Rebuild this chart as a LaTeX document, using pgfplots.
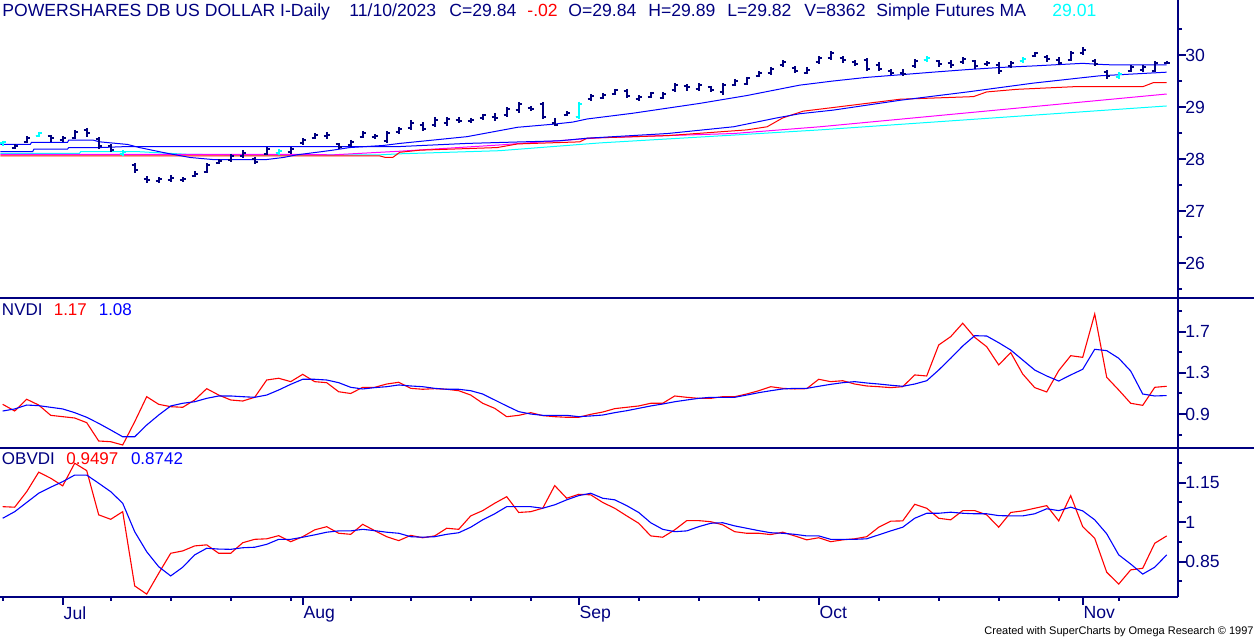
\documentclass[border=0pt]{standalone}
\usepackage{pgfplots}
\pgfplotsset{compat=1.18}
\usepackage{pgfplotstable}
\usepackage{fontspec}
\setmainfont{Liberation Sans}
\definecolor{navy}{RGB}{0,0,128}
\definecolor{mablue}{RGB}{0,0,255}
\definecolor{mared}{RGB}{255,0,0}
\definecolor{mamag}{RGB}{255,0,255}
\definecolor{macyan}{RGB}{0,255,255}
\pgfdeclareplotmark{openL}{\pgfpathmoveto{\pgfqpoint{-1.6pt}{0pt}}\pgfpathlineto{\pgfqpoint{0pt}{0pt}}\pgfusepathqstroke}
\pgfdeclareplotmark{closeR}{\pgfpathmoveto{\pgfqpoint{0pt}{0pt}}\pgfpathlineto{\pgfqpoint{1.6pt}{0pt}}\pgfusepathqstroke}

\pgfplotstableread{
i H L O C
0 28.35 28.25 28.30 28.32
1 28.29 28.19 28.22 28.25
2 28.44 28.31 28.33 28.40
3 28.52 28.42 28.45 28.50
4 28.46 28.33 28.44 28.40
5 28.44 28.33 28.36 28.41
6 28.56 28.38 28.40 28.52
7 28.60 28.42 28.55 28.50
8 28.42 28.19 28.38 28.25
9 28.29 28.13 28.25 28.18
10 28.17 28.06 28.10 28.13
11 27.92 27.73 27.88 27.78
12 27.67 27.54 27.62 27.60
13 27.65 27.54 27.58 27.62
14 27.69 27.56 27.60 27.64
15 27.65 27.56 27.60 27.62
16 27.77 27.65 27.68 27.72
17 27.92 27.73 27.75 27.88
18 28.00 27.90 27.93 27.97
19 28.10 27.94 27.98 28.05
20 28.17 28.02 28.05 28.12
21 28.04 27.90 28.00 27.95
22 28.23 28.08 28.10 28.20
23 28.19 28.08 28.12 28.15
24 28.23 28.10 28.13 28.19
25 28.40 28.27 28.30 28.36
26 28.50 28.38 28.40 28.46
27 28.52 28.38 28.45 28.47
28 28.31 28.19 28.28 28.24
29 28.37 28.23 28.26 28.33
30 28.54 28.40 28.43 28.50
31 28.48 28.38 28.42 28.45
32 28.54 28.31 28.35 28.50
33 28.62 28.48 28.52 28.58
34 28.75 28.56 28.60 28.70
35 28.71 28.54 28.65 28.58
36 28.81 28.62 28.65 28.75
37 28.81 28.63 28.70 28.76
38 28.81 28.69 28.75 28.74
39 28.79 28.69 28.73 28.75
40 28.87 28.75 28.78 28.84
41 28.88 28.73 28.80 28.78
42 29.00 28.81 28.85 28.96
43 29.10 28.88 28.95 29.05
44 29.02 28.92 28.98 28.97
45 29.10 28.77 29.05 28.80
46 28.79 28.63 28.70 28.66
47 28.92 28.83 28.85 28.88
48 29.10 28.77 28.80 29.05
49 29.25 29.12 29.15 29.22
50 29.27 29.15 29.18 29.24
51 29.35 29.23 29.25 29.32
52 29.35 29.17 29.30 29.22
53 29.23 29.12 29.15 29.20
54 29.29 29.17 29.20 29.26
55 29.29 29.15 29.18 29.25
56 29.46 29.29 29.32 29.42
57 29.44 29.31 29.40 29.38
58 29.46 29.31 29.35 29.42
59 29.40 29.29 29.38 29.33
60 29.46 29.23 29.28 29.42
61 29.54 29.40 29.43 29.50
62 29.58 29.42 29.45 29.55
63 29.69 29.58 29.60 29.66
64 29.77 29.62 29.65 29.74
65 29.90 29.77 29.80 29.87
66 29.79 29.65 29.75 29.70
67 29.77 29.63 29.66 29.72
68 29.98 29.83 29.86 29.94
69 30.08 29.90 29.94 30.03
70 29.98 29.85 29.95 29.90
71 29.90 29.79 29.86 29.82
72 29.94 29.69 29.90 29.73
73 29.87 29.69 29.80 29.74
74 29.73 29.62 29.70 29.66
75 29.73 29.60 29.66 29.64
76 29.92 29.75 29.78 29.89
77 29.98 29.87 29.90 29.95
78 29.90 29.77 29.88 29.82
79 29.90 29.75 29.85 29.80
80 29.96 29.83 29.86 29.92
81 29.90 29.73 29.88 29.78
82 29.88 29.79 29.83 29.84
83 29.87 29.63 29.80 29.70
84 29.88 29.75 29.78 29.85
85 29.96 29.85 29.88 29.93
86 30.06 29.96 29.98 30.03
87 30.00 29.87 29.97 29.92
88 29.96 29.81 29.90 29.85
89 30.08 29.88 29.91 30.04
90 30.15 30.00 30.03 30.10
91 29.92 29.79 29.88 29.83
92 29.71 29.54 29.68 29.60
93 29.67 29.54 29.58 29.63
94 29.81 29.67 29.70 29.76
95 29.81 29.67 29.72 29.77
96 29.88 29.67 29.70 29.85
97 29.89 29.82 29.84 29.84
}\bars

\pgfplotstableread{
i H L O C
0 28.35 28.25 28.30 28.32
3 28.52 28.42 28.45 28.50
10 28.17 28.06 28.10 28.13
23 28.19 28.08 28.12 28.15
48 29.10 28.77 28.80 29.05
77 29.98 29.87 29.90 29.95
85 29.96 29.85 29.88 29.93
93 29.67 29.54 29.58 29.63
}\cyanbars

\pgfplotstableread{
i r b
0 0.995 0.930
1 0.930 0.950
2 1.044 0.988
3 0.988 0.982
4 0.888 0.966
5 0.875 0.950
6 0.862 0.914
7 0.817 0.869
8 0.639 0.810
9 0.632 0.746
10 0.600 0.680
11 0.826 0.680
12 1.069 0.794
13 0.995 0.891
14 0.972 0.979
15 0.966 1.005
16 1.037 1.020
17 1.147 1.053
18 1.085 1.076
19 1.037 1.076
20 1.027 1.069
21 1.063 1.063
22 1.231 1.085
23 1.248 1.134
24 1.215 1.189
25 1.286 1.238
26 1.215 1.238
27 1.205 1.231
28 1.117 1.205
29 1.100 1.160
30 1.160 1.144
31 1.160 1.157
32 1.192 1.166
33 1.209 1.183
34 1.150 1.173
35 1.141 1.166
36 1.147 1.150
37 1.141 1.141
38 1.127 1.141
39 1.085 1.127
40 1.005 1.095
41 0.956 1.037
42 0.875 0.979
43 0.888 0.924
44 0.914 0.901
45 0.885 0.888
46 0.875 0.888
47 0.869 0.888
48 0.869 0.875
49 0.898 0.882
50 0.920 0.891
51 0.953 0.914
52 0.966 0.933
53 0.979 0.956
54 1.005 0.979
55 1.005 0.998
56 1.076 1.020
57 1.063 1.037
58 1.053 1.053
59 1.053 1.063
60 1.069 1.063
61 1.069 1.063
62 1.095 1.085
63 1.127 1.108
64 1.166 1.127
65 1.150 1.144
66 1.144 1.150
67 1.147 1.150
68 1.238 1.170
69 1.215 1.189
70 1.224 1.205
71 1.192 1.215
72 1.173 1.202
73 1.166 1.192
74 1.157 1.180
75 1.166 1.170
76 1.280 1.192
77 1.270 1.224
78 1.571 1.328
79 1.652 1.442
80 1.782 1.561
81 1.645 1.661
82 1.554 1.658
83 1.377 1.593
84 1.497 1.522
85 1.289 1.425
86 1.157 1.328
87 1.115 1.270
88 1.322 1.221
89 1.467 1.280
90 1.451 1.335
91 1.872 1.529
92 1.257 1.516
93 1.134 1.442
94 1.005 1.318
95 0.985 1.095
96 1.160 1.076
97 1.170 1.080
}\nvdi

\pgfplotstableread{
i r b
0 1.059 1.015
1 1.057 1.040
2 1.116 1.075
3 1.190 1.110
4 1.167 1.133
5 1.138 1.154
6 1.224 1.179
7 1.196 1.179
8 1.028 1.148
9 1.011 1.116
10 1.040 1.072
11 0.758 0.964
12 0.727 0.888
13 0.806 0.831
14 0.882 0.796
15 0.891 0.829
16 0.910 0.876
17 0.914 0.901
18 0.882 0.898
19 0.882 0.897
20 0.922 0.903
21 0.935 0.905
22 0.937 0.916
23 0.949 0.935
24 0.926 0.935
25 0.945 0.943
26 0.971 0.952
27 0.983 0.962
28 0.958 0.967
29 0.954 0.967
30 0.992 0.973
31 0.968 0.968
32 0.945 0.962
33 0.930 0.958
34 0.950 0.945
35 0.941 0.943
36 0.948 0.945
37 0.977 0.954
38 0.973 0.960
39 1.024 0.981
40 1.044 1.009
41 1.072 1.032
42 1.097 1.059
43 1.037 1.059
44 1.040 1.059
45 1.053 1.053
46 1.139 1.066
47 1.091 1.085
48 1.106 1.101
49 1.104 1.110
50 1.075 1.091
51 1.053 1.085
52 1.024 1.063
53 0.996 1.037
54 0.948 0.998
55 0.943 0.973
56 0.971 0.964
57 1.006 0.967
58 1.006 0.983
59 1.002 0.996
60 0.990 0.998
61 0.964 0.986
62 0.958 0.977
63 0.958 0.968
64 0.953 0.960
65 0.962 0.958
66 0.948 0.954
67 0.933 0.948
68 0.941 0.948
69 0.926 0.935
70 0.933 0.935
71 0.937 0.935
72 0.945 0.937
73 0.981 0.952
74 1.004 0.967
75 1.005 0.981
76 1.068 1.015
77 1.053 1.034
78 1.015 1.034
79 1.009 1.038
80 1.044 1.034
81 1.044 1.032
82 1.028 1.032
83 0.981 1.025
84 1.037 1.024
85 1.043 1.024
86 1.053 1.032
87 1.063 1.051
88 1.005 1.044
89 1.101 1.057
90 0.983 1.043
91 0.939 1.009
92 0.810 0.956
93 0.765 0.876
94 0.819 0.841
95 0.825 0.803
96 0.920 0.829
97 0.948 0.876
}\obvdi

\pgfplotsset{
  panel/.style={
    scale only axis, width=589pt, xmin=-0.225, xmax=97.94,
    axis y line*=right,
    axis line style={navy, line width=1pt},
    tick align=outside, major tick length=4pt, minor tick length=2pt,
    tick style={navy, line width=1pt},
    yticklabel style={font=\fontsize{8.8}{10}\selectfont, text=navy, anchor=west, inner sep=0pt, xshift=-0.5pt},
    /pgf/number format/assume math mode=true,
    anchor=south west,
  },
  hlbar/.style={draw=none, mark=none, forget plot,
    error bars/.cd, y dir=minus, y explicit, error mark=none,
    error bar style={draw=#1, line width=1pt, solid}},
}

\begin{document}
\begin{tikzpicture}
\path[use as bounding box] (0pt,0pt) rectangle (627pt,318.5pt);

% ---------- price panel ----------
\begin{axis}[panel, at={(0pt,169.5pt)}, height=149pt,
  ymin=25.327, ymax=31.058, hide x axis,
  ytick={26,27,28,29,30}, yticklabels={26,27,28,29,30},
  minor ytick={25.5,26.5,27.5,28.5,29.5,30.5}]
\addplot[macyan, line width=0.5pt] coordinates {(-0.2,28.11)(6.4,28.11)(6.5,28.14)(11.4,28.14)(15.4,28.09)(19.2,28.08)(31.4,28.08)(33.1,28.10)(41.4,28.16)(49.8,28.31)(60.9,28.46)(68.1,28.56)(97.0,29.02)};
\addplot[mamag, line width=0.5pt] coordinates {(-0.2,28.09)(24.8,28.09)(27.5,28.08)(33.1,28.15)(41.4,28.27)(49.8,28.41)(60.9,28.49)(68.1,28.62)(97.0,29.25)};
\addplot[mared, line width=0.5pt] coordinates {(-0.2,28.06)(31.4,28.06)(31.9,28.03)(32.5,28.03)(33.1,28.13)(34.8,28.17)(41.2,28.22)(42.9,28.29)(48.1,28.33)(48.7,28.40)(55.4,28.45)(62.0,28.56)(63.7,28.62)(65.0,28.79)(66.7,28.92)(69.2,28.99)(72.0,29.07)(74.8,29.15)(80.9,29.20)(82.0,29.29)(84.5,29.34)(89.2,29.39)(95.0,29.39)(95.9,29.47)(97.0,29.47)};
\addplot[mablue, line width=0.5pt] coordinates {(-0.2,28.14)(2.5,28.14)(2.6,28.19)(5.4,28.19)(5.5,28.22)(8.1,28.22)(10.4,28.24)(33.1,28.24)(38.7,28.30)(46.4,28.35)(48.7,28.40)(55.4,28.49)(60.9,28.62)(64.5,28.79)(66.4,28.87)(69.2,28.94)(74.8,29.13)(80.4,29.29)(85.9,29.46)(91.4,29.60)(97.0,29.67)};
\addplot[mablue, line width=0.5pt] coordinates {(-0.2,28.28)(2.3,28.28)(2.4,28.32)(5.4,28.32)(5.5,28.365)(7.5,28.365)(8.1,28.33)(10.4,28.28)(11.4,28.22)(13.7,28.11)(15.6,28.03)(17.5,27.99)(22.0,27.99)(23.4,28.03)(24.5,28.08)(26.2,28.13)(27.5,28.17)(28.9,28.22)(31.7,28.26)(33.1,28.30)(38.7,28.43)(42.9,28.61)(45.9,28.67)(47.5,28.71)(48.7,28.77)(52.5,28.88)(58.1,29.07)(62.0,29.22)(66.4,29.42)(69.2,29.50)(72.0,29.57)(74.8,29.62)(77.5,29.67)(80.4,29.72)(83.1,29.76)(85.9,29.79)(90.0,29.84)(91.4,29.82)(92.5,29.81)(97.0,29.81)};
% OHLC bars
\addplot[hlbar=navy] table[x=i, y=H, y error minus expr=\thisrow{H}-\thisrow{L}] {\bars};
\addplot[only marks, navy, mark=openL, mark options={line width=1pt}] table[x=i, y=O] {\bars};
\addplot[only marks, navy, mark=closeR, mark options={line width=1pt}] table[x=i, y=C] {\bars};
\addplot[hlbar=macyan] table[x=i, y=H, y error minus expr=\thisrow{H}-\thisrow{L}] {\cyanbars};
\addplot[only marks, macyan, mark=openL, mark options={line width=1pt}] table[x=i, y=O] {\cyanbars};
\addplot[only marks, macyan, mark=closeR, mark options={line width=1pt}] table[x=i, y=C] {\cyanbars};
\end{axis}

% ---------- NVDI panel ----------
\begin{axis}[panel, at={(0pt,94.5pt)}, height=75pt,
  ymin=0.571, ymax=2.027, hide x axis,
  ytick={0.9,1.3,1.7}, yticklabels={0.9,1.3,1.7},
  minor ytick={0.7,1.1,1.5,1.9}]
\addplot[mared, line width=0.55pt] table[x=i, y=r] {\nvdi};
\addplot[mablue, line width=0.55pt] table[x=i, y=b] {\nvdi};
\end{axis}

% ---------- OBVDI panel ----------
\begin{axis}[panel, at={(0pt,20pt)}, height=74.5pt,
  ymin=0.716, ymax=1.2818,
  axis x line*=bottom,
  xtick={5,25,48,68,90}, xticklabels={Jul,Aug,Sep,Oct,Nov},
  minor xtick={0,9,14,19,24,29,34,39,44,53,58,63,73,78,83,88,93},
  xticklabel style={font=\fontsize{8.8}{10}\selectfont, text=navy, anchor=north west, inner sep=0pt, xshift=0.3pt, yshift=-0.5pt},
  ytick={0.85,1,1.15}, yticklabels={0.85,1,1.15},
  minor ytick={0.775,0.925,1.075,1.225}]
\addplot[mared, line width=0.55pt] table[x=i, y=r] {\obvdi};
\addplot[mablue, line width=0.55pt] table[x=i, y=b] {\obvdi};
\end{axis}

% separators
\draw[navy, line width=1pt] (0pt,169.5pt) -- (627pt,169.5pt);
\draw[navy, line width=1pt] (0pt,94.5pt) -- (627pt,94.5pt);

% title line
\begin{scope}[every node/.style={anchor=base west, inner sep=0pt, font=\fontsize{8.8}{10}\selectfont, text=navy}]
\node at (1pt,310.2pt) {POWERSHARES DB US DOLLAR I-Daily};
\node at (174.5pt,310.2pt) {11/10/2023};
\node at (224.5pt,310.2pt) {C=29.84};
\node[text=mared] at (263.5pt,310.2pt) {-.02};
\node at (284pt,310.2pt) {O=29.84};
\node at (324pt,310.2pt) {H=29.89};
\node at (363.5pt,310.2pt) {L=29.82};
\node at (402pt,310.2pt) {V=8362};
\node at (438pt,310.2pt) {Simple Futures MA};
\node[text=macyan] at (526pt,310.2pt) {29.01};
\end{scope}

% panel labels
\begin{scope}[every node/.style={anchor=base west, inner sep=0pt, font=\fontsize{8.5}{10}\selectfont, text=navy}]
\node at (0.8pt,160.75pt) {NVDI};
\node[text=mared] at (26.7pt,160.75pt) {1.17};
\node[text=mablue] at (49.2pt,160.75pt) {1.08};
\node at (0.8pt,86pt) {OBVDI};
\node[text=mared] at (33pt,86pt) {0.9497};
\node[text=mablue] at (65.3pt,86pt) {0.8742};
\end{scope}

\node[anchor=base east, inner sep=0pt, font=\fontsize{5.5}{6}\selectfont, text=black] at (627pt,1pt) {Created with SuperCharts by Omega Research © 1997};
\end{tikzpicture}
\end{document}
